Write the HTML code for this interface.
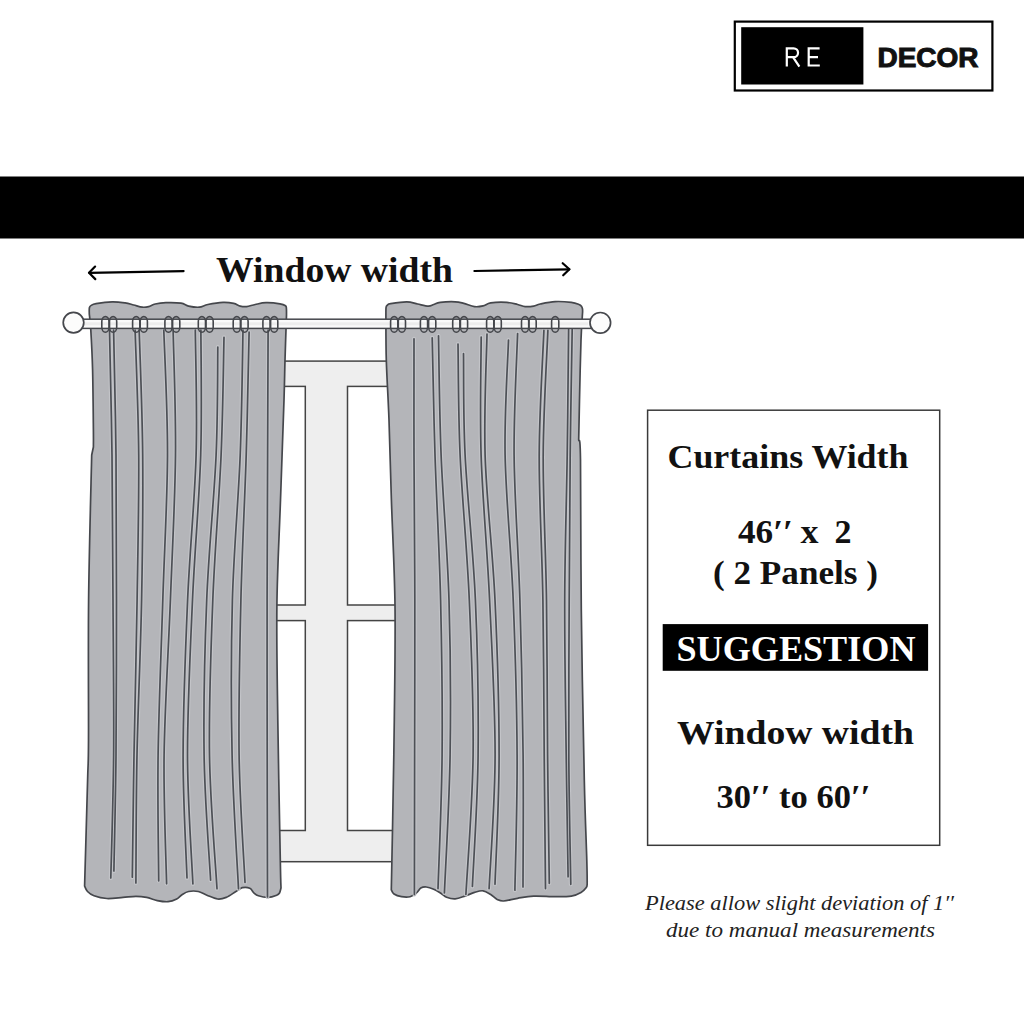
<!DOCTYPE html>
<html><head><meta charset="utf-8"><style>
html,body{margin:0;padding:0;background:#fff;}
body{width:1024px;height:1024px;overflow:hidden;position:relative;}
svg{position:absolute;left:0;top:0;}
</style></head><body>
<svg width="1024" height="1024" viewBox="0 0 1024 1024">
<rect x="0" y="0" width="1024" height="1024" fill="#fff"/>
<!-- logo -->
<rect x="734.8" y="21.6" width="257.6" height="68.9" fill="none" stroke="#000" stroke-width="2.2"/>
<rect x="741.2" y="27.2" width="122.2" height="57.3" fill="#000"/>
<path d="M786.8 66.6V48.3H793.6A4.45 4.45 0 0 1 793.6 57.2H786.8M793 57.2L799.4 66.6M819.6 48.3H808.7V65.5H819.8M808.7 57.1H818" fill="none" stroke="#fff" stroke-width="2.2"/>
<text x="877.5" y="66.6" font-family="Liberation Sans" font-weight="bold" font-size="27" fill="#111" stroke="#111" stroke-width="1" textLength="101" lengthAdjust="spacingAndGlyphs">DECOR</text>
<!-- band -->
<rect x="0" y="176.5" width="1024" height="62" fill="#000"/>
<!-- title -->
<text x="216" y="282.4" font-family="Liberation Serif" font-weight="bold" font-size="35.7" fill="#111" textLength="237" lengthAdjust="spacingAndGlyphs">Window width</text>
<g stroke="#000" stroke-width="2.2" fill="none" stroke-linecap="round" stroke-linejoin="round">
<path d="M89.2 272.8 L183.6 271.1"/><path d="M95.1 266.6 L89 272.8 L95.3 279.1"/>
<path d="M474.4 271 L569.3 269.3"/><path d="M562.7 263.2 L569.4 269.3 L563.2 275.3"/>
</g>
<!-- window -->
<rect x="230" y="361.1" width="200" height="500.6" fill="#eeeeee" stroke="#444" stroke-width="1.5"/>
<g fill="#fff" stroke="#444" stroke-width="1.5">
<rect x="200" y="386.4" width="105.3" height="218.6"/>
<rect x="347.5" y="386.4" width="120" height="218.6"/>
<rect x="200" y="620.6" width="105.3" height="209.9"/>
<rect x="347.5" y="620.6" width="120" height="209.9"/>
</g>
<!-- curtains -->
<g fill="#b4b5b9" stroke="#45474c" stroke-width="1.7" stroke-linejoin="round">
<path d="M89.30 314.00C89.32 312.97 89.08 309.23 89.40 307.80C89.72 306.37 90.08 306.10 91.20 305.40C92.32 304.70 92.60 304.20 96.10 303.60C99.60 303.00 107.37 301.92 112.20 301.80C117.03 301.68 121.52 302.37 125.10 302.90C128.68 303.43 130.83 304.28 133.70 305.00C136.57 305.72 139.80 306.93 142.30 307.20C144.80 307.47 146.55 307.13 148.70 306.60C150.85 306.07 152.33 304.65 155.20 304.00C158.07 303.35 161.60 302.83 165.90 302.70C170.20 302.57 177.22 302.63 181.00 303.20C184.78 303.77 185.55 305.43 188.60 306.10C191.65 306.77 196.08 307.47 199.30 307.20C202.52 306.93 203.95 305.30 207.90 304.50C211.85 303.70 218.70 302.58 223.00 302.40C227.30 302.22 230.83 302.78 233.70 303.40C236.57 304.02 238.05 305.57 240.20 306.10C242.35 306.63 244.10 306.87 246.60 306.60C249.10 306.33 251.97 305.15 255.20 304.50C258.43 303.85 261.87 302.82 266.00 302.70C270.13 302.58 276.75 303.28 280.00 303.80C283.25 304.32 284.43 305.02 285.50 305.80C286.57 306.58 286.23 306.97 286.40 308.50C286.57 310.03 286.48 313.92 286.50 315.00C286.25 322.50 285.42 345.83 285.00 360.00C284.58 374.17 284.75 376.67 284.00 400.00C283.25 423.33 281.68 465.83 280.50 500.00C279.32 534.17 277.35 568.33 276.90 605.00C276.45 641.67 277.23 677.50 277.80 720.00C278.37 762.50 279.77 832.00 280.30 860.00C280.83 888.00 280.88 883.33 281.00 888.00C280.75 888.83 280.22 891.80 279.50 893.00C278.78 894.20 278.60 894.47 276.70 895.20C274.80 895.93 271.15 897.30 268.10 897.40C265.05 897.50 260.73 896.52 258.40 895.80C256.07 895.08 255.53 894.35 254.10 893.10C252.67 891.85 251.77 889.20 249.80 888.30C247.83 887.40 244.62 887.17 242.30 887.70C239.98 888.23 238.58 889.88 235.90 891.50C233.22 893.12 229.25 896.15 226.20 897.40C223.15 898.65 220.82 899.37 217.60 899.00C214.38 898.63 210.12 896.45 206.90 895.20C203.68 893.95 201.35 892.12 198.30 891.50C195.25 890.88 191.32 890.97 188.60 891.50C185.88 892.03 183.98 893.45 182.00 894.70C180.02 895.95 179.02 897.83 176.70 899.00C174.38 900.17 171.33 901.43 168.10 901.70C164.87 901.97 160.88 901.32 157.30 900.60C153.72 899.88 150.17 898.12 146.60 897.40C143.03 896.68 139.83 896.30 135.90 896.30C131.97 896.30 127.83 897.03 123.00 897.40C118.17 897.77 111.73 898.77 106.90 898.50C102.07 898.23 97.23 896.97 94.00 895.80C90.77 894.63 89.07 893.13 87.50 891.50C85.93 889.87 85.08 886.92 84.60 886.00C85.10 868.33 86.95 804.33 87.60 780.00C88.25 755.67 88.33 770.00 88.50 740.00C88.67 710.00 88.07 647.50 88.60 600.00C89.13 552.50 91.18 479.17 91.70 455.00L93.4 447C93.40 444.17 93.53 442.83 93.40 430.00C93.27 417.17 93.03 386.67 92.60 370.00C92.17 353.33 91.35 339.33 90.80 330.00C90.25 320.67 89.55 316.67 89.30 314.00Z"/>
<path d="M385.90 314.00C385.93 312.87 385.82 308.70 386.10 307.20C386.38 305.70 386.83 305.60 387.60 305.00C388.37 304.40 387.48 304.13 390.70 303.60C393.92 303.07 402.42 301.73 406.90 301.80C411.38 301.87 414.03 303.28 417.60 304.00C421.17 304.72 425.62 306.02 428.30 306.10C430.98 306.18 431.72 305.12 433.70 304.50C435.68 303.88 436.62 302.85 440.20 302.40C443.78 301.95 451.27 301.63 455.20 301.80C459.13 301.97 460.58 302.60 463.80 303.40C467.02 304.20 471.28 306.18 474.50 306.60C477.72 307.02 480.40 306.52 483.10 305.90C485.80 305.28 486.73 303.48 490.70 302.90C494.67 302.32 502.42 302.13 506.90 302.40C511.38 302.67 514.57 303.80 517.60 304.50C520.63 305.20 522.42 306.33 525.10 306.60C527.78 306.87 531.18 306.53 533.70 306.10C536.22 305.67 536.62 304.75 540.20 304.00C543.78 303.25 550.02 301.87 555.20 301.60C560.38 301.33 567.33 301.92 571.30 302.40C575.27 302.88 577.28 303.82 579.00 304.50C580.72 305.18 581.02 305.75 581.60 306.50C582.18 307.25 582.33 308.08 582.50 309.00C582.67 309.92 582.58 311.50 582.60 312.00C582.33 316.67 581.52 325.33 581.00 340.00C580.48 354.67 579.88 383.33 579.50 400.00C579.12 416.67 578.83 433.33 578.70 440.00C579.00 443.33 580.07 431.67 580.50 460.00C580.93 488.33 580.67 556.67 581.30 610.00C581.93 663.33 583.38 738.33 584.30 780.00C585.22 821.67 586.32 842.67 586.80 860.00C587.28 877.33 587.13 880.00 587.20 884.00C587.05 884.58 587.33 886.10 586.30 887.50C585.27 888.90 583.50 890.97 581.00 892.40C578.50 893.83 575.60 895.38 571.30 896.10C567.00 896.82 561.47 896.70 555.20 896.70C548.93 896.70 539.97 895.83 533.70 896.10C527.43 896.37 522.62 897.48 517.60 898.30C512.58 899.12 507.00 900.82 503.60 901.00C500.20 901.18 499.35 900.48 497.20 899.40C495.05 898.32 493.05 895.93 490.70 894.50C488.35 893.07 485.80 891.15 483.10 890.80C480.40 890.45 477.53 891.52 474.50 892.40C471.47 893.28 468.12 895.03 464.90 896.10C461.68 897.17 458.25 898.62 455.20 898.80C452.15 898.98 448.93 898.08 446.60 897.20C444.27 896.32 443.35 894.83 441.20 893.50C439.05 892.17 436.20 890.28 433.70 889.20C431.20 888.12 428.35 887.18 426.20 887.00C424.05 886.82 422.42 887.12 420.80 888.10C419.18 889.08 418.28 891.47 416.50 892.90C414.72 894.33 412.60 896.07 410.10 896.70C407.60 897.33 404.18 897.15 401.50 896.70C398.82 896.25 395.70 895.17 394.00 894.00C392.30 892.83 391.75 890.42 391.30 889.70C391.50 879.75 392.00 858.28 392.50 830.00C393.00 801.72 393.88 757.50 394.30 720.00C394.72 682.50 395.48 641.67 395.00 605.00C394.52 568.33 392.40 530.83 391.40 500.00C390.40 469.17 389.85 443.33 389.00 420.00C388.15 396.67 386.82 377.67 386.30 360.00C385.78 342.33 385.97 321.67 385.90 314.00Z"/>
</g>
<path d="M109.50 330.00C109.92 350.83 111.42 410.00 112.00 455.00C112.58 500.00 112.73 550.00 113.00 600.00C113.27 650.00 113.97 708.65 113.60 755.00C113.23 801.35 111.27 857.58 110.80 878.10 M113.60 330.00C114.00 350.83 115.52 410.00 116.00 455.00C116.48 500.00 116.50 550.00 116.50 600.00C116.50 650.00 116.43 709.82 116.00 755.00C115.57 800.18 114.25 851.75 113.90 871.10 M135.10 330.00C135.70 350.83 138.37 410.00 138.70 455.00C139.03 500.00 137.88 550.00 137.10 600.00C136.32 650.00 134.80 708.80 134.00 755.00C133.20 801.20 132.58 856.83 132.30 877.20 M139.20 330.00C139.78 350.83 142.30 410.00 142.70 455.00C143.10 500.00 142.55 550.00 141.60 600.00C140.65 650.00 137.95 707.83 137.00 755.00C136.05 802.17 136.08 861.67 135.90 883.00 M163.80 330.00C164.42 350.83 167.67 410.00 167.50 455.00C167.33 500.00 164.37 550.00 162.80 600.00C161.23 650.00 158.78 708.20 158.10 755.00C157.42 801.80 158.60 859.83 158.70 880.80 M173.10 330.00C173.50 350.83 175.95 410.00 175.50 455.00C175.05 500.00 172.30 550.00 170.40 600.00C168.50 650.00 164.73 707.70 164.10 755.00C163.47 802.30 166.18 862.33 166.60 883.80 M195.30 330.00C195.43 350.83 197.38 410.00 196.10 455.00C194.82 500.00 189.77 550.00 187.60 600.00C185.43 650.00 183.20 708.67 183.10 755.00C183.00 801.33 186.35 857.50 187.00 878.00 M200.90 330.00C200.87 350.83 202.10 410.00 200.70 455.00C199.30 500.00 194.70 550.00 192.50 600.00C190.30 650.00 187.43 707.67 187.50 755.00C187.57 802.33 192.00 862.50 192.90 884.00 M217.80 347.00C217.52 365.00 217.95 412.83 216.10 455.00C214.25 497.17 208.70 550.00 206.70 600.00C204.70 650.00 203.45 708.30 204.10 755.00C204.75 801.70 209.52 859.33 210.60 880.20 M224.00 337.30C223.52 356.92 222.97 411.22 221.10 455.00C219.23 498.78 214.73 550.00 212.80 600.00C210.87 650.00 208.80 706.87 209.50 755.00C210.20 803.13 215.75 866.50 217.00 888.80 M243.00 330.00C242.53 350.83 241.97 410.00 240.20 455.00C238.43 500.00 233.75 550.00 232.40 600.00C231.05 650.00 231.08 706.87 232.10 755.00C233.12 803.13 237.43 866.50 238.50 888.80 M249.10 332.20C248.62 352.67 247.57 410.37 246.20 455.00C244.83 499.63 242.08 550.00 240.90 600.00C239.72 650.00 238.42 707.93 239.10 755.00C239.78 802.07 244.02 861.17 245.00 882.40 M268.10 330.00C268.02 350.83 267.77 410.00 267.60 455.00C267.43 500.00 267.17 550.00 267.10 600.00C267.03 650.00 267.13 705.50 267.20 755.00C267.27 804.50 267.45 873.33 267.50 897.00 M414.00 338.80C414.00 358.17 413.87 411.47 414.00 455.00C414.13 498.53 414.70 550.00 414.80 600.00C414.90 650.00 414.67 705.92 414.60 755.00C414.53 804.08 414.43 871.25 414.40 894.50 M432.20 337.80C432.67 357.33 433.60 411.30 435.00 455.00C436.40 498.70 439.42 550.00 440.60 600.00C441.78 650.00 442.53 706.90 442.10 755.00C441.67 803.10 438.68 866.33 438.00 888.60 M438.50 335.80C438.93 355.67 439.35 410.97 441.10 455.00C442.85 499.03 447.50 550.00 449.00 600.00C450.50 650.00 450.87 706.17 450.10 755.00C449.33 803.83 445.35 870.00 444.40 893.00 M458.00 344.00C458.35 362.50 458.22 412.33 460.10 455.00C461.98 497.67 467.13 550.00 469.30 600.00C471.47 650.00 473.67 705.92 473.10 755.00C472.53 804.08 467.10 871.25 465.90 894.50 M463.50 353.70C463.77 370.58 463.12 413.95 465.10 455.00C467.08 496.05 473.23 550.00 475.40 600.00C477.57 650.00 478.60 707.25 478.10 755.00C477.60 802.75 473.35 864.58 472.40 886.50 M481.20 337.00C481.18 356.67 479.70 411.17 481.10 455.00C482.50 498.83 487.27 550.00 489.60 600.00C491.93 650.00 495.18 706.90 495.10 755.00C495.02 803.10 490.10 866.33 489.10 888.60 M487.00 334.00C486.68 354.17 483.77 410.67 485.10 455.00C486.43 499.33 492.67 550.00 495.00 600.00C497.33 650.00 499.10 707.62 499.10 755.00C499.10 802.38 495.68 862.75 495.00 884.30 M508.50 340.00C507.93 359.17 504.32 411.67 505.10 455.00C505.88 498.33 511.20 550.00 513.20 600.00C515.20 650.00 516.82 706.63 517.10 755.00C517.38 803.37 515.27 867.67 514.90 890.20 M517.60 333.60C517.02 353.83 513.72 410.60 514.10 455.00C514.48 499.40 518.40 550.00 519.90 600.00C521.40 650.00 522.58 707.17 523.10 755.00C523.62 802.83 523.02 865.00 523.00 887.00 M543.90 330.40C543.12 351.17 539.37 410.07 539.20 455.00C539.03 499.93 542.07 550.00 542.90 600.00C543.73 650.00 543.77 706.90 544.20 755.00C544.63 803.10 545.28 866.33 545.50 888.60 M547.90 330.40C547.12 351.17 543.43 410.07 543.20 455.00C542.97 499.93 545.77 550.00 546.50 600.00C547.23 650.00 547.13 707.78 547.60 755.00C548.07 802.22 549.02 861.92 549.30 883.30 M568.60 329.30C568.37 350.25 567.85 409.88 567.20 455.00C566.55 500.12 564.87 550.00 564.70 600.00C564.53 650.00 565.63 708.87 566.20 755.00C566.77 801.13 567.78 856.50 568.10 876.80 M572.20 329.30C571.87 350.25 570.70 409.88 570.20 455.00C569.70 500.12 569.43 550.00 569.20 600.00C568.97 650.00 568.53 707.62 568.80 755.00C569.07 802.38 570.47 862.75 570.80 884.30" fill="none" stroke="#c3c4c8" stroke-width="4" stroke-linecap="round"/>
<path d="M109.50 330.00C109.92 350.83 111.42 410.00 112.00 455.00C112.58 500.00 112.73 550.00 113.00 600.00C113.27 650.00 113.97 708.65 113.60 755.00C113.23 801.35 111.27 857.58 110.80 878.10 M113.60 330.00C114.00 350.83 115.52 410.00 116.00 455.00C116.48 500.00 116.50 550.00 116.50 600.00C116.50 650.00 116.43 709.82 116.00 755.00C115.57 800.18 114.25 851.75 113.90 871.10 M135.10 330.00C135.70 350.83 138.37 410.00 138.70 455.00C139.03 500.00 137.88 550.00 137.10 600.00C136.32 650.00 134.80 708.80 134.00 755.00C133.20 801.20 132.58 856.83 132.30 877.20 M139.20 330.00C139.78 350.83 142.30 410.00 142.70 455.00C143.10 500.00 142.55 550.00 141.60 600.00C140.65 650.00 137.95 707.83 137.00 755.00C136.05 802.17 136.08 861.67 135.90 883.00 M163.80 330.00C164.42 350.83 167.67 410.00 167.50 455.00C167.33 500.00 164.37 550.00 162.80 600.00C161.23 650.00 158.78 708.20 158.10 755.00C157.42 801.80 158.60 859.83 158.70 880.80 M173.10 330.00C173.50 350.83 175.95 410.00 175.50 455.00C175.05 500.00 172.30 550.00 170.40 600.00C168.50 650.00 164.73 707.70 164.10 755.00C163.47 802.30 166.18 862.33 166.60 883.80 M195.30 330.00C195.43 350.83 197.38 410.00 196.10 455.00C194.82 500.00 189.77 550.00 187.60 600.00C185.43 650.00 183.20 708.67 183.10 755.00C183.00 801.33 186.35 857.50 187.00 878.00 M200.90 330.00C200.87 350.83 202.10 410.00 200.70 455.00C199.30 500.00 194.70 550.00 192.50 600.00C190.30 650.00 187.43 707.67 187.50 755.00C187.57 802.33 192.00 862.50 192.90 884.00 M217.80 347.00C217.52 365.00 217.95 412.83 216.10 455.00C214.25 497.17 208.70 550.00 206.70 600.00C204.70 650.00 203.45 708.30 204.10 755.00C204.75 801.70 209.52 859.33 210.60 880.20 M224.00 337.30C223.52 356.92 222.97 411.22 221.10 455.00C219.23 498.78 214.73 550.00 212.80 600.00C210.87 650.00 208.80 706.87 209.50 755.00C210.20 803.13 215.75 866.50 217.00 888.80 M243.00 330.00C242.53 350.83 241.97 410.00 240.20 455.00C238.43 500.00 233.75 550.00 232.40 600.00C231.05 650.00 231.08 706.87 232.10 755.00C233.12 803.13 237.43 866.50 238.50 888.80 M249.10 332.20C248.62 352.67 247.57 410.37 246.20 455.00C244.83 499.63 242.08 550.00 240.90 600.00C239.72 650.00 238.42 707.93 239.10 755.00C239.78 802.07 244.02 861.17 245.00 882.40 M268.10 330.00C268.02 350.83 267.77 410.00 267.60 455.00C267.43 500.00 267.17 550.00 267.10 600.00C267.03 650.00 267.13 705.50 267.20 755.00C267.27 804.50 267.45 873.33 267.50 897.00 M414.00 338.80C414.00 358.17 413.87 411.47 414.00 455.00C414.13 498.53 414.70 550.00 414.80 600.00C414.90 650.00 414.67 705.92 414.60 755.00C414.53 804.08 414.43 871.25 414.40 894.50 M432.20 337.80C432.67 357.33 433.60 411.30 435.00 455.00C436.40 498.70 439.42 550.00 440.60 600.00C441.78 650.00 442.53 706.90 442.10 755.00C441.67 803.10 438.68 866.33 438.00 888.60 M438.50 335.80C438.93 355.67 439.35 410.97 441.10 455.00C442.85 499.03 447.50 550.00 449.00 600.00C450.50 650.00 450.87 706.17 450.10 755.00C449.33 803.83 445.35 870.00 444.40 893.00 M458.00 344.00C458.35 362.50 458.22 412.33 460.10 455.00C461.98 497.67 467.13 550.00 469.30 600.00C471.47 650.00 473.67 705.92 473.10 755.00C472.53 804.08 467.10 871.25 465.90 894.50 M463.50 353.70C463.77 370.58 463.12 413.95 465.10 455.00C467.08 496.05 473.23 550.00 475.40 600.00C477.57 650.00 478.60 707.25 478.10 755.00C477.60 802.75 473.35 864.58 472.40 886.50 M481.20 337.00C481.18 356.67 479.70 411.17 481.10 455.00C482.50 498.83 487.27 550.00 489.60 600.00C491.93 650.00 495.18 706.90 495.10 755.00C495.02 803.10 490.10 866.33 489.10 888.60 M487.00 334.00C486.68 354.17 483.77 410.67 485.10 455.00C486.43 499.33 492.67 550.00 495.00 600.00C497.33 650.00 499.10 707.62 499.10 755.00C499.10 802.38 495.68 862.75 495.00 884.30 M508.50 340.00C507.93 359.17 504.32 411.67 505.10 455.00C505.88 498.33 511.20 550.00 513.20 600.00C515.20 650.00 516.82 706.63 517.10 755.00C517.38 803.37 515.27 867.67 514.90 890.20 M517.60 333.60C517.02 353.83 513.72 410.60 514.10 455.00C514.48 499.40 518.40 550.00 519.90 600.00C521.40 650.00 522.58 707.17 523.10 755.00C523.62 802.83 523.02 865.00 523.00 887.00 M543.90 330.40C543.12 351.17 539.37 410.07 539.20 455.00C539.03 499.93 542.07 550.00 542.90 600.00C543.73 650.00 543.77 706.90 544.20 755.00C544.63 803.10 545.28 866.33 545.50 888.60 M547.90 330.40C547.12 351.17 543.43 410.07 543.20 455.00C542.97 499.93 545.77 550.00 546.50 600.00C547.23 650.00 547.13 707.78 547.60 755.00C548.07 802.22 549.02 861.92 549.30 883.30 M568.60 329.30C568.37 350.25 567.85 409.88 567.20 455.00C566.55 500.12 564.87 550.00 564.70 600.00C564.53 650.00 565.63 708.87 566.20 755.00C566.77 801.13 567.78 856.50 568.10 876.80 M572.20 329.30C571.87 350.25 570.70 409.88 570.20 455.00C569.70 500.12 569.43 550.00 569.20 600.00C568.97 650.00 568.53 707.62 568.80 755.00C569.07 802.38 570.47 862.75 570.80 884.30" fill="none" stroke="#4d5056" stroke-width="1.7" stroke-linecap="round"/>
<!-- rod -->
<rect x="80" y="319.2" width="512" height="9.2" fill="#fafafa" stroke="#45474c" stroke-width="1.5"/>
<rect x="84" y="322.3" width="504" height="3" fill="#ededed"/>
<g fill="none" stroke="#45474c" stroke-width="1.6"><rect x="101.80" y="316.6" width="7.2" height="15.6" rx="3.6" ry="5"/><rect x="109.50" y="316.6" width="7.2" height="15.6" rx="3.6" ry="5"/><rect x="132.60" y="316.6" width="7.2" height="15.6" rx="3.6" ry="5"/><rect x="140.20" y="316.6" width="7.2" height="15.6" rx="3.6" ry="5"/><rect x="164.90" y="316.6" width="7.2" height="15.6" rx="3.6" ry="5"/><rect x="172.60" y="316.6" width="7.2" height="15.6" rx="3.6" ry="5"/><rect x="198.30" y="316.6" width="7.2" height="15.6" rx="3.6" ry="5"/><rect x="206.00" y="316.6" width="7.2" height="15.6" rx="3.6" ry="5"/><rect x="233.20" y="316.6" width="7.2" height="15.6" rx="3.6" ry="5"/><rect x="240.90" y="316.6" width="7.2" height="15.6" rx="3.6" ry="5"/><rect x="262.90" y="316.6" width="7.2" height="15.6" rx="3.6" ry="5"/><rect x="270.60" y="316.6" width="7.2" height="15.6" rx="3.6" ry="5"/><rect x="390.60" y="316.6" width="7.2" height="15.6" rx="3.6" ry="5"/><rect x="398.30" y="316.6" width="7.2" height="15.6" rx="3.6" ry="5"/><rect x="420.40" y="316.6" width="7.2" height="15.6" rx="3.6" ry="5"/><rect x="428.60" y="316.6" width="7.2" height="15.6" rx="3.6" ry="5"/><rect x="452.70" y="316.6" width="7.2" height="15.6" rx="3.6" ry="5"/><rect x="460.40" y="316.6" width="7.2" height="15.6" rx="3.6" ry="5"/><rect x="486.60" y="316.6" width="7.2" height="15.6" rx="3.6" ry="5"/><rect x="494.10" y="316.6" width="7.2" height="15.6" rx="3.6" ry="5"/><rect x="521.50" y="316.6" width="7.2" height="15.6" rx="3.6" ry="5"/><rect x="529.00" y="316.6" width="7.2" height="15.6" rx="3.6" ry="5"/><rect x="551.60" y="316.6" width="7.2" height="15.6" rx="3.6" ry="5"/></g>
<circle cx="73.5" cy="322.6" r="10.3" fill="#fcfcfc" stroke="#45474c" stroke-width="1.7"/>
<circle cx="600.3" cy="322.8" r="10.3" fill="#fcfcfc" stroke="#45474c" stroke-width="1.7"/>
<!-- info box -->
<rect x="647.6" y="410.2" width="292.1" height="435.1" fill="none" stroke="#3a3a3a" stroke-width="1.5"/>
<g font-family="Liberation Serif" font-weight="bold" fill="#111">
<text x="667.5" y="468.1" font-size="34.4" textLength="241" lengthAdjust="spacingAndGlyphs">Curtains Width</text>
<text x="738" y="543.1" font-size="33" textLength="55" lengthAdjust="spacingAndGlyphs">46&#8242;&#8242;</text>
<text x="800.5" y="543.1" font-size="33" textLength="18" lengthAdjust="spacingAndGlyphs">x</text>
<text x="834.5" y="543.1" font-size="33" textLength="17" lengthAdjust="spacingAndGlyphs">2</text>
<text x="713" y="583.5" font-size="33.4" textLength="165" lengthAdjust="spacingAndGlyphs">( 2 Panels )</text>
<text x="677" y="744.3" font-size="34.7" textLength="237" lengthAdjust="spacingAndGlyphs">Window width</text>
<text x="716.5" y="808.1" font-size="34" textLength="154" lengthAdjust="spacingAndGlyphs">30&#8242;&#8242; to 60&#8242;&#8242;</text>
</g>
<rect x="662.7" y="624.1" width="265.4" height="46.7" fill="#000"/>
<text x="676.5" y="660.9" font-family="Liberation Serif" font-weight="bold" font-size="36.3" fill="#fff" textLength="239" lengthAdjust="spacingAndGlyphs">SUGGESTION</text>
<g font-family="Liberation Serif" font-style="italic" fill="#222" font-size="21.5">
<text x="645" y="910" textLength="309" lengthAdjust="spacingAndGlyphs">Please allow slight deviation of 1&#8242;&#8242;</text>
<text x="666" y="937.3" textLength="269" lengthAdjust="spacingAndGlyphs">due to manual measurements</text>
</g>
</svg>
</body></html>
